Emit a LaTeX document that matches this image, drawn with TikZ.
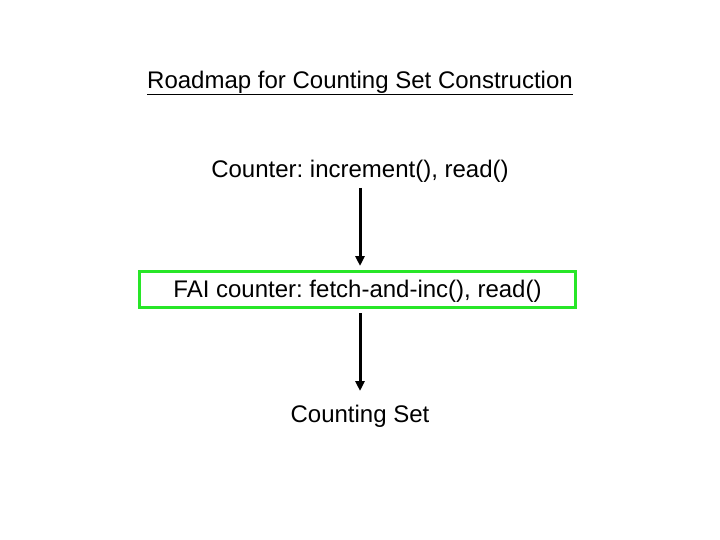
\documentclass[tikz,border=0pt]{standalone}
\usepackage{fontspec}
\setmainfont{Liberation Sans}
\usetikzlibrary{arrows.meta}
\definecolor{boxgreen}{RGB}{40,230,40}
\frenchspacing
\begin{document}
\begin{tikzpicture}[x=1pt,y=-1pt,
  lbl/.style={font=\fontsize{24}{28}\selectfont, inner sep=0pt, anchor=center},
  conn/.style={line width=3pt, -{Triangle[length=10pt,width=9pt]}},
  grnbox/.style={draw=boxgreen, line width=3pt, minimum width=436pt, minimum height=36pt, inner sep=0pt, font=\fontsize{24}{28}\selectfont}]
\useasboundingbox (0,0) rectangle (720,540);
\node[lbl] (title) at (360,83) {\underline{Roadmap for Counting Set Construction}};
\node[lbl] (ctr) at (360,171) {Counter: increment(), read()};
\node[grnbox] (fai) at (357.5,289.5) {\raisebox{-2pt}[\height][\depth]{FAI counter: fetch-and-inc(), read()}};
\node[lbl] (cs) at (360,416) {Counting Set};
\coordinate (a1s) at (360,188);
\coordinate (a1e) at (360,266);
\coordinate (a2s) at (360,313);
\coordinate (a2e) at (360,391);
\draw[conn] (a1s) -- (a1e);
\draw[conn] (a2s) -- (a2e);
\end{tikzpicture}
\end{document}
